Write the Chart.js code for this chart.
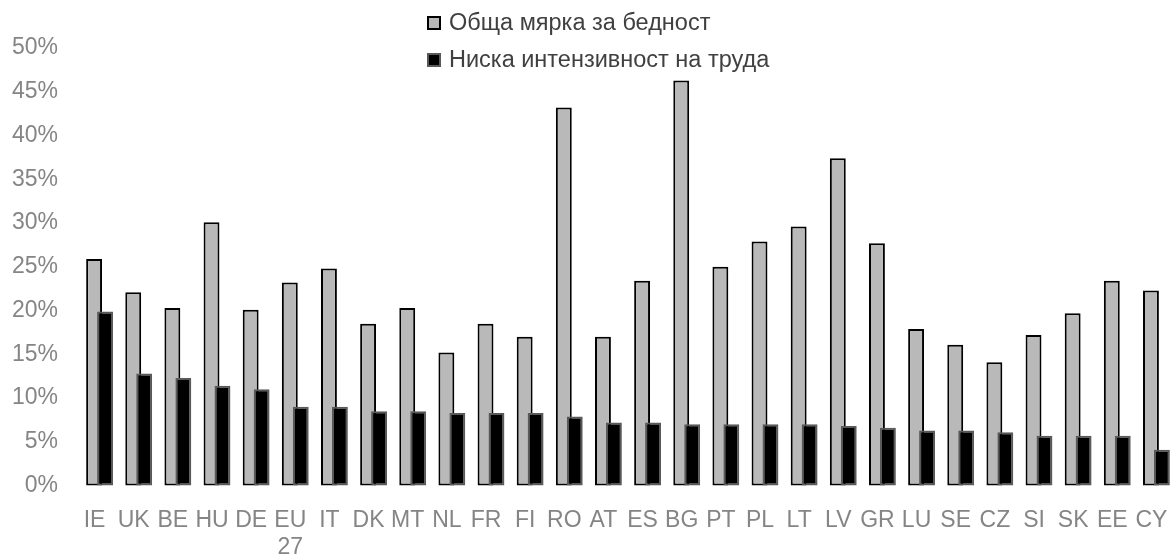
<!DOCTYPE html>
<html>
<head>
<meta charset="utf-8">
<script src="https://cdn.jsdelivr.net/npm/chart.js@4/dist/chart.umd.min.js"></script>
<style>
    body { margin: 0; background: #fff; overflow: hidden; }
    #wrap { width: 1176px; height: 560px; }
</style>
</head>
<body>
<div id="wrap"><canvas id="chart1"></canvas></div>
<script>
const categories = ['IE', 'UK', 'BE', 'HU', 'DE', 'EU 27', 'IT', 'DK', 'MT', 'NL', 'FR', 'FI', 'RO', 'AT',
    'ES', 'BG', 'PT', 'PL', 'LT', 'LV', 'GR', 'LU', 'SE', 'CZ', 'SI', 'SK', 'EE', 'CY'];
const seriesNames = ['Обща мярка за бедност', 'Ниска интензивност на труда'];
const overallPoverty = [25.9, 22.1, 20.3, 30.1, 20.1, 23.2, 24.8, 18.5, 20.3, 15.2, 18.5, 17.0, 43.2, 17.0,
    23.4, 46.3, 25.0, 27.9, 29.6, 37.4, 27.7, 17.9, 16.1, 14.1, 17.2, 19.7, 23.4, 22.3];
const lowWorkIntensity = [19.9, 12.8, 12.3, 11.4, 11.0, 9.0, 9.0, 8.5, 8.5, 8.3, 8.3, 8.3, 7.9, 7.2,
    7.2, 7.0, 7.0, 7.0, 7.0, 6.8, 6.6, 6.3, 6.3, 6.1, 5.7, 5.7, 5.7, 4.1];
const yTicks = [0, 5, 10, 15, 20, 25, 30, 35, 40, 45, 50];

Chart.defaults.font.family = '"Liberation Sans", Arial, sans-serif';
Chart.defaults.font.size = 23;

// legend drawn by hand: two rows, left aligned, near the top centre
const stackedLegend = {
    id: 'stackedLegend',
    afterDraw(chart) {
        const ctx = chart.ctx;
        ctx.save();
        ctx.font = '23.5px "Liberation Sans", Arial, sans-serif';
        ctx.textBaseline = 'middle';
        chart.data.datasets.forEach((ds, i) => {
            const y = 23 + i * 37;
            ctx.fillStyle = ds.backgroundColor;
            ctx.fillRect(428, y - 6, 12, 12);
            ctx.strokeStyle = ds.borderColor;
            ctx.lineWidth = 2;
            ctx.strokeRect(428, y - 6, 12, 12);
            ctx.fillStyle = '#404040';
            ctx.fillText(ds.label, 449, y + 1);
        });
        ctx.restore();
    }
};

// chart.js paints the first dataset last; here the black bars must sit on top
const drawInOrder = {
    id: 'drawInOrder',
    beforeDatasetsDraw(chart) {
        chart.getSortedVisibleDatasetMetas().forEach(m => m.controller.draw());
        return false;
    }
};

const data = {
    labels: categories,
    datasets: [{
        label: seriesNames[0],
        data: overallPoverty,
        backgroundColor: '#b9b9b9',
        borderColor: '#000000',
        borderWidth: 2,
        borderSkipped: false,
        categoryPercentage: 0.56,
        barPercentage: 1.45
    },
    {
        label: seriesNames[1],
        data: lowWorkIntensity,
        backgroundColor: '#000000',
        borderColor: '#595959',
        borderWidth: 2,
        borderSkipped: false,
        categoryPercentage: 0.56,
        barPercentage: 1.45
    }]
};

const config = {
    type: 'bar',
    data: data,
    plugins: [stackedLegend, drawInOrder],
    options: {
        responsive: true,
        maintainAspectRatio: false,
        animation: false,
        layout: { padding: { top: 48, left: 0, right: 0, bottom: 0 } },
        plugins: {
            legend: { display: false },
            tooltip: { enabled: false }
        },
        scales: {
            x: {
                grid: { display: false, drawTicks: false },
                border: { display: false },
                // plot runs to the right edge, no extra room for the last label
                afterFit: s => { s.height = 74.5; s.paddingLeft = 0; s.paddingRight = 0; },
                ticks: {
                    color: '#858585',
                    padding: 21,
                    labelOffset: -5,
                    autoSkip: false,
                    maxRotation: 0,
                    minRotation: 0,
                    callback: function (value) {
                        const l = this.getLabelForValue(value);
                        return l.includes(' ') ? l.split(' ') : l;
                    }
                }
            },
            y: {
                min: 0,
                max: 50,
                grid: { display: false, drawTicks: false },
                border: { display: false },
                afterFit: s => { s.width = 80; },
                afterBuildTicks: s => { s.ticks = yTicks.map(v => ({ value: v })); },
                ticks: {
                    color: '#858585',
                    padding: 22,
                    callback: v => v + '%'
                }
            }
        }
    }
};

const myChart = new Chart(document.getElementById('chart1'), config);
</script>
</body>
</html>
